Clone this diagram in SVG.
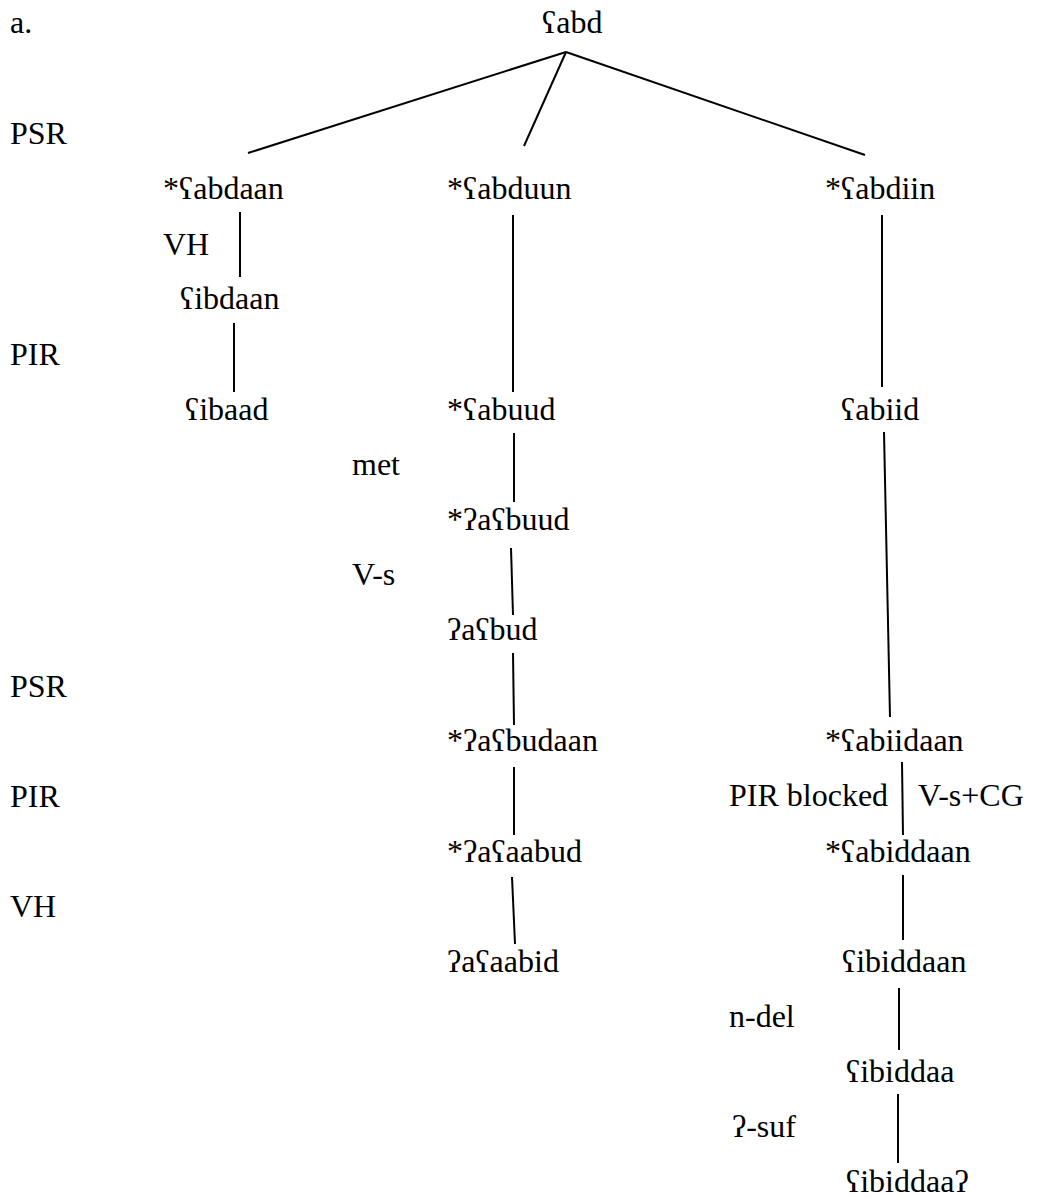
<svg xmlns="http://www.w3.org/2000/svg" width="1038" height="1198" viewBox="0 0 1038 1198">
<style>
text{font-family:"Liberation Serif","DejaVu Serif","Noto Sans",serif;font-size:32px;fill:#000}
line{stroke:#000;stroke-width:2;stroke-linecap:butt}
</style>
<rect width="1038" height="1198" fill="#fff"/>
<g id="rule-labels">
<text x="10" y="33">a.</text>
<text x="10" y="144">PSR</text>
<text x="10" y="365">PIR</text>
<text x="10" y="697">PSR</text>
<text x="10" y="807">PIR</text>
<text x="10" y="917">VH</text>
<text x="163" y="255">VH</text>
<text x="352" y="475">met</text>
<text x="352" y="585">V-s</text>
<text x="729" y="806">PIR blocked</text>
<text x="918" y="806">V-s+CG</text>
<text x="729" y="1027">n-del</text>
<text x="732" y="1137">ʔ-suf</text>
</g>
<g id="connectors">
<line x1="566" y1="52" x2="248" y2="153"/>
<line x1="566" y1="52" x2="524" y2="146"/>
<line x1="566" y1="52" x2="865" y2="155"/>
<line x1="240" y1="212" x2="240" y2="277"/>
<line x1="234" y1="323" x2="234" y2="392"/>
<line x1="513" y1="215" x2="513" y2="392"/>
<line x1="882" y1="215" x2="882" y2="387"/>
<line x1="514" y1="433" x2="514" y2="502"/>
<line x1="511" y1="548" x2="513" y2="615"/>
<line x1="513" y1="653" x2="514" y2="725"/>
<line x1="514" y1="767" x2="514" y2="835"/>
<line x1="512" y1="877" x2="515" y2="944"/>
<line x1="884" y1="432" x2="890" y2="717"/>
<line x1="902" y1="762" x2="903" y2="835"/>
<line x1="903" y1="875" x2="903" y2="940"/>
<line x1="899" y1="988" x2="899" y2="1050"/>
<line x1="898" y1="1094" x2="898" y2="1163"/>
</g>
<g id="n-root"><text x="542" y="33">ʕabd</text></g>
<g id="n-abdaan"><text x="163" y="199">*ʕabdaan</text></g>
<g id="n-abduun"><text x="447" y="199">*ʕabduun</text></g>
<g id="n-abdiin"><text x="825" y="199">*ʕabdiin</text></g>
<g id="n-ibdaan"><text x="180" y="309">ʕibdaan</text></g>
<g id="n-ibaad"><text x="185" y="420">ʕibaad</text></g>
<g id="n-abuud"><text x="447" y="420">*ʕabuud</text></g>
<g id="n-abiid"><text x="841" y="420">ʕabiid</text></g>
<g id="n-aabuud"><text x="447" y="530">*ʔaʕbuud</text></g>
<g id="n-aabud"><text x="447" y="640">ʔaʕbud</text></g>
<g id="n-aabudaan"><text x="447" y="751">*ʔaʕbudaan</text></g>
<g id="n-abiidaan"><text x="825" y="751">*ʕabiidaan</text></g>
<g id="n-aaaabud"><text x="447" y="862">*ʔaʕaabud</text></g>
<g id="n-abiddaan"><text x="825" y="862">*ʕabiddaan</text></g>
<g id="n-aaaabid"><text x="447" y="972">ʔaʕaabid</text></g>
<g id="n-ibiddaan"><text x="842" y="972">ʕibiddaan</text></g>
<g id="n-ibiddaa"><text x="846" y="1082">ʕibiddaa</text></g>
<g id="n-ibiddaaq"><text x="846" y="1192">ʕibiddaaʔ</text></g>
</svg>
